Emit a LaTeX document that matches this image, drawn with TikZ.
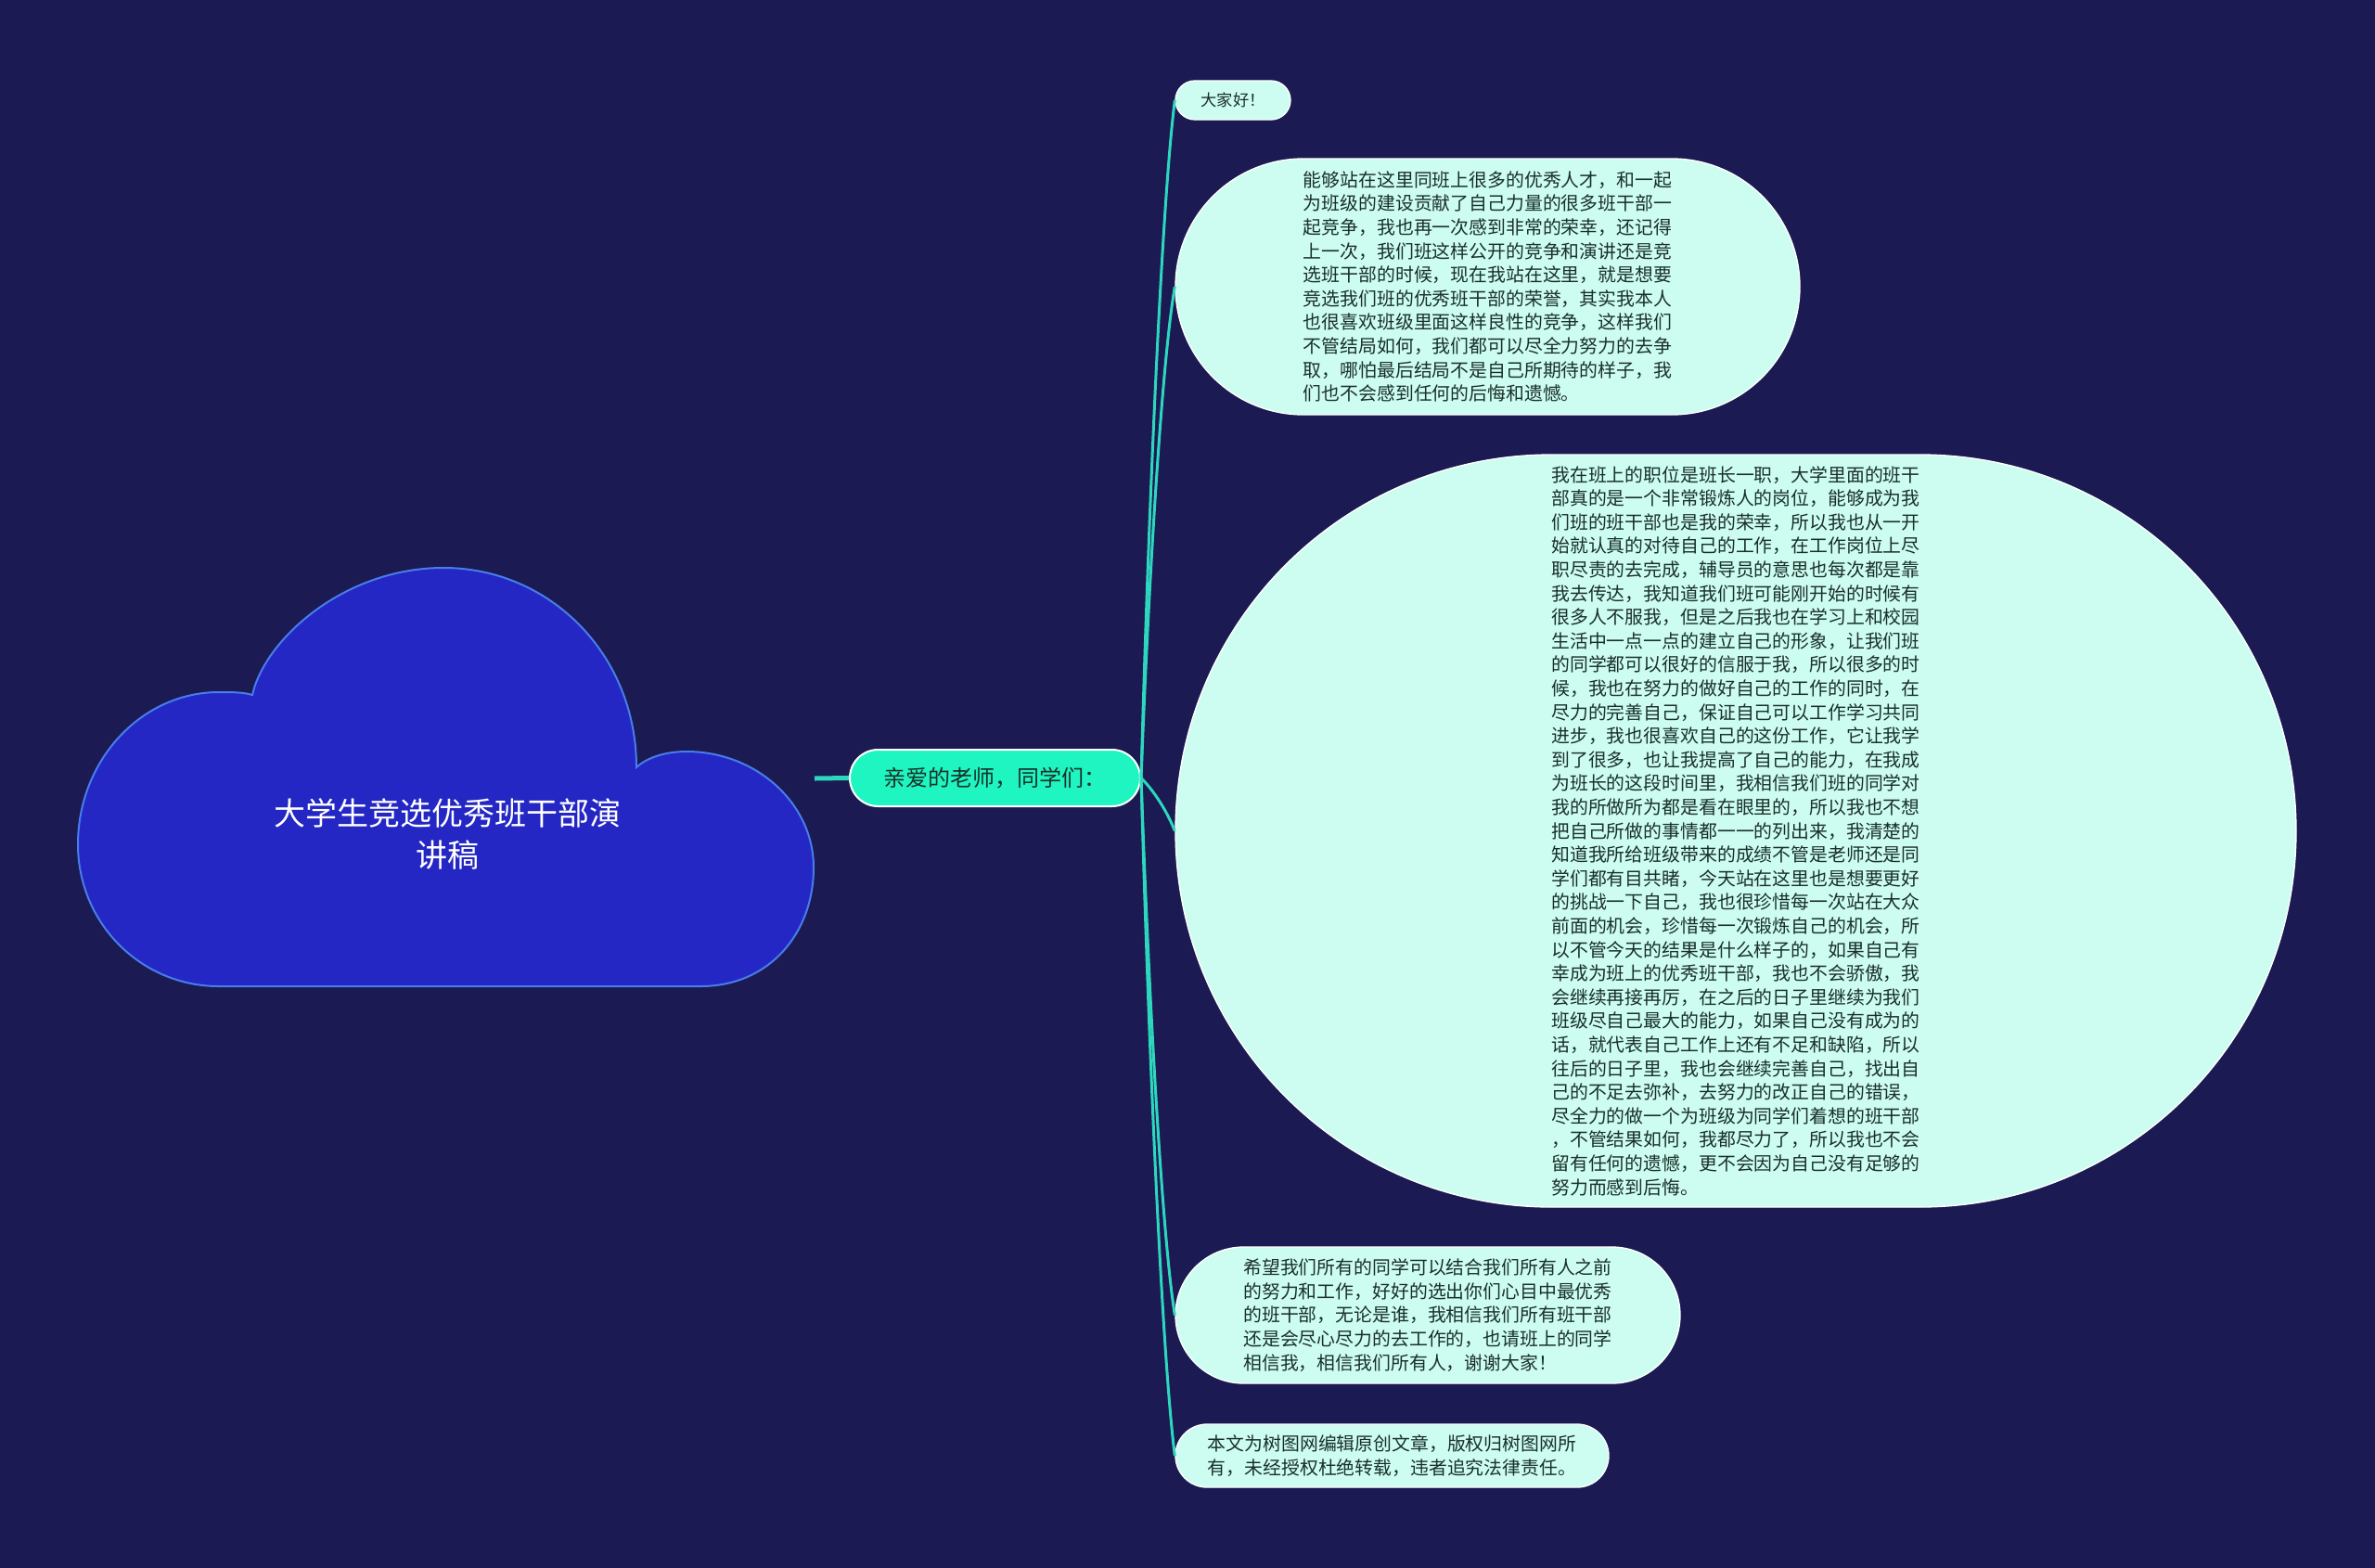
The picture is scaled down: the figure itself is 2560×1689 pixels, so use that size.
\documentclass[tikz,border=0pt]{standalone}
\usepackage{fontspec}
\newfontfamily\cjk{Noto Sans CJK SC}
\usetikzlibrary{shapes.misc}

\definecolor{bgnavy}{RGB}{27,26,82}
\definecolor{cloudblue}{RGB}{36,39,196}
\definecolor{cloudedge}{RGB}{72,125,235}
\definecolor{branchteal}{RGB}{45,215,190}
\definecolor{greetfill}{RGB}{30,245,192}
\definecolor{leaffill}{RGB}{205,252,240}
\definecolor{leaftext}{RGB}{25,48,42}

\tikzset{every picture/.style={line width=0.75pt}}

\begin{document}
\begin{tikzpicture}[x=0.75pt,y=0.75pt,yscale=-1,xscale=1,
  leaf/.style={rounded rectangle, fill=leaffill, draw=white, line width=1pt, inner sep=0pt, text=leaftext, align=left, font=\cjk\fontsize{14.9}{19.2}\selectfont},
  branch/.style={color=branchteal, line width=2.25pt},
  rootline/.style={color=branchteal, line width=3.75pt}]
%set diagram size 2560 x 1689
\useasboundingbox (0,0) rectangle (2560,1689);
\fill [bgnavy] (-10,-10) rectangle (2570,1700);

%Shape: Cloud
\draw [fill=cloudblue, draw=cloudedge, line width=1.5pt] (236,1063) -- (755,1063) .. controls (830,1063) and (877,1005) .. (877,935) .. controls (877,866) and (815,810) .. (740,810) .. controls (718,810) and (698,816) .. (686,827) .. controls (686,706) and (593,612) .. (478,612) .. controls (370,612) and (285,690) .. (272,749) .. controls (262,746) and (250,746) .. (236,746) .. controls (152,746) and (84,820) .. (84,910) .. controls (84,995) and (152,1063) .. (236,1063) -- cycle ;
\coordinate (cloudright) at (878,839);

% Text Node
\node (title) at (482,899) [text=white, align=center, font=\cjk\fontsize{25.5}{33.75}\selectfont] {大学生竞选优秀班干部演\\讲稿};

% Text Node
\node (greet) at (1072.5,838.5) [rounded rectangle, fill=greetfill, draw=white, line width=1.5pt, minimum width=234.75pt, minimum height=45.75pt, inner sep=0pt, text=leaftext, font=\cjk\fontsize{18}{22}\selectfont] {亲爱的老师，同学们：};

% Text Node
\node (hello) at (1329,108) [leaf, minimum width=93pt, minimum height=31.5pt, font=\cjk\fontsize{13}{16}\selectfont] {大家好！};
% Text Node
\node (honour) at (1603.5,309) [leaf, minimum width=504.75pt, minimum height=207pt] {能够站在这里同班上很多的优秀人才，和一起\\为班级的建设贡献了自己力量的很多班干部一\\起竞争，我也再一次感到非常的荣幸，还记得\\上一次，我们班这样公开的竞争和演讲还是竞\\选班干部的时候，现在我站在这里，就是想要\\竞选我们班的优秀班干部的荣誉，其实我本人\\也很喜欢班级里面这样良性的竞争，这样我们\\不管结局如何，我们都可以尽全力努力的去争\\取，哪怕最后结局不是自己所期待的样子，我\\们也不会感到任何的后悔和遗憾。};
% Text Node
\node (monitor) at (1871,895.5) [leaf, minimum width=906pt, minimum height=608.25pt] {我在班上的职位是班长一职，大学里面的班干\\部真的是一个非常锻炼人的岗位，能够成为我\\们班的班干部也是我的荣幸，所以我也从一开\\始就认真的对待自己的工作，在工作岗位上尽\\职尽责的去完成，辅导员的意思也每次都是靠\\我去传达，我知道我们班可能刚开始的时候有\\很多人不服我，但是之后我也在学习上和校园\\生活中一点一点的建立自己的形象，让我们班\\的同学都可以很好的信服于我，所以很多的时\\候，我也在努力的做好自己的工作的同时，在\\尽力的完善自己，保证自己可以工作学习共同\\进步，我也很喜欢自己的这份工作，它让我学\\到了很多，也让我提高了自己的能力，在我成\\为班长的这段时间里，我相信我们班的同学对\\我的所做所为都是看在眼里的，所以我也不想\\把自己所做的事情都一一的列出来，我清楚的\\知道我所给班级带来的成绩不管是老师还是同\\学们都有目共睹，今天站在这里也是想要更好\\的挑战一下自己，我也很珍惜每一次站在大众\\前面的机会，珍惜每一次锻炼自己的机会，所\\以不管今天的结果是什么样子的，如果自己有\\幸成为班上的优秀班干部，我也不会骄傲，我\\会继续再接再厉，在之后的日子里继续为我们\\班级尽自己最大的能力，如果自己没有成为的\\话，就代表自己工作上还有不足和缺陷，所以\\往后的日子里，我也会继续完善自己，找出自\\己的不足去弥补，去努力的改正自己的错误，\\尽全力的做一个为班级为同学们着想的班干部\\，不管结果如何，我都尽力了，所以我也不会\\留有任何的遗憾，更不会因为自己没有足够的\\努力而感到后悔。};
% Text Node
\node (thanks) at (1539,1417.5) [leaf, minimum width=408pt, minimum height=110.25pt] {希望我们所有的同学可以结合我们所有人之前\\的努力和工作，好好的选出你们心目中最优秀\\的班干部，无论是谁，我相信我们所有班干部\\还是会尽心尽力的去工作的，也请班上的同学\\相信我，相信我们所有人，谢谢大家！};
% Text Node
\node (notice) at (1500.5,1569) [leaf, minimum width=350.25pt, minimum height=51pt] {本文为树图网编辑原创文章，版权归树图网所\\有，未经授权杜绝转载，违者追究法律责任。};

%Straight Lines
\draw [rootline] (cloudright) -- (greet.west) ;

%Curve Lines
\draw [branch] (greet.east) .. controls +(8,-290) and +(-14,110) .. (hello.west) ;
\draw [branch] (greet.east) .. controls +(8,-210) and +(-14,80) .. (honour.west) ;
\draw [branch] (greet.east) .. controls +(15,15) and +(-8,-20) .. (monitor.west) ;
\draw [branch] (greet.east) .. controls +(8,230) and +(-14,-87) .. (thanks.west) ;
\draw [branch] (greet.east) .. controls +(8,290) and +(-14,-110) .. (notice.west) ;

\end{tikzpicture}
\end{document}
